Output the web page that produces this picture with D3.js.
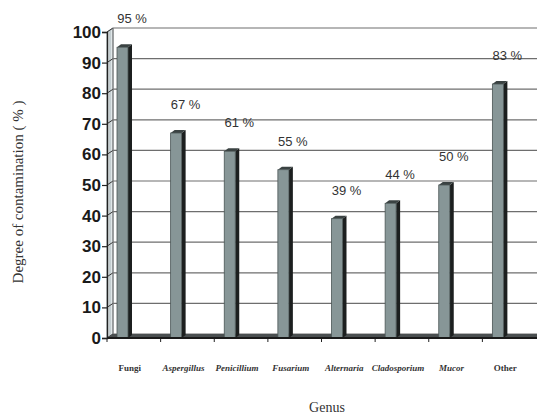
<!DOCTYPE html>
<html>
<head>
<meta charset="utf-8">
<script src="https://cdn.jsdelivr.net/npm/d3@7"></script>
<style>
  html, body { margin: 0; padding: 0; background: #fff; }
  svg { display: block; }
</style>
</head>
<body>
<svg id="chart" width="537" height="415"></svg>
<script>
// Contamination by genus
const categories = ["Fungi", "Aspergillus", "Penicillium", "Fusarium", "Alternaria", "Cladosporium", "Mucor", "Other"];
const contamination = [95, 67, 61, 55, 39, 44, 50, 83];
const italicLabel = [false, true, true, true, true, true, true, false];
const yTicks = [0, 10, 20, 30, 40, 50, 60, 70, 80, 90, 100];
const yTitle = "Degree of contamination ( % )";
const xTitle = "Genus";

const W = 537, H = 415;
const svg = d3.select("#chart");

const plotLeft = 107, plotRight = 536, plotBottom = 338, plotTop = 32;
const wallDx = 6, wallDy = -4;     // depth of the back wall
const barDx = 4, barDy = -3;       // depth of each bar
const barFront = 11;

const x = d3.scaleBand().domain(categories).range([plotLeft, plotRight]);
const y = d3.scaleLinear().domain([0, 100]).range([plotBottom, plotTop]);

// side wall on the left
svg.append("polygon")
  .attr("points", [[plotLeft, y(0)], [plotLeft + wallDx, y(0) + wallDy], [plotLeft + wallDx, y(100) + wallDy], [plotLeft, y(100)]].map(p => p.join(",")).join(" "))
  .attr("fill", "#dfe6e8").attr("stroke", "#8a979b").attr("stroke-width", 1);
svg.append("line")
  .attr("x1", plotLeft + 3).attr("x2", plotLeft + 3)
  .attr("y1", y(100) - 2).attr("y2", y(0) - 2)
  .attr("stroke", "#aab6ba").attr("stroke-width", 1);

// back wall gridlines
const grid = svg.append("g");
grid.selectAll("line.grid").data(yTicks).join("line")
  .attr("class", "grid")
  .attr("x1", plotLeft + wallDx).attr("x2", W)
  .attr("y1", d => y(d) + wallDy).attr("y2", d => y(d) + wallDy)
  .attr("stroke", "#6e6e6e").attr("stroke-width", 1.2);
grid.selectAll("line.diag").data(yTicks).join("line")
  .attr("class", "diag")
  .attr("x1", plotLeft).attr("x2", plotLeft + wallDx)
  .attr("y1", d => y(d)).attr("y2", d => y(d) + wallDy)
  .attr("stroke", "#333").attr("stroke-width", 1);
grid.append("line")
  .attr("x1", plotLeft + wallDx).attr("x2", plotLeft + wallDx)
  .attr("y1", y(100) + wallDy).attr("y2", y(0) + wallDy)
  .attr("stroke", "#777").attr("stroke-width", 1);

// floor
svg.append("polygon")
  .attr("points", [[plotLeft, y(0)], [plotLeft + wallDx, y(0) + wallDy], [W, y(0) + wallDy], [W, y(0)]].map(p => p.join(",")).join(" "))
  .attr("fill", "#4a4f50");

// bars
const bars = svg.append("g").selectAll("g").data(categories).join("g");
bars.each(function (c, i) {
  const g = d3.select(this);
  const x0 = x(c) + 10;
  const yt = y(contamination[i]);
  const yb = y(0);
  // right side
  g.append("polygon")
    .attr("points", [[x0 + barFront, yt], [x0 + barFront + barDx, yt + barDy], [x0 + barFront + barDx, yb + barDy], [x0 + barFront, yb]].map(p => p.join(",")).join(" "))
    .attr("fill", "#1c1f1f");
  // top
  g.append("polygon")
    .attr("points", [[x0, yt], [x0 + barDx, yt + barDy], [x0 + barFront + barDx, yt + barDy], [x0 + barFront, yt]].map(p => p.join(",")).join(" "))
    .attr("fill", "#3a4242");
  // front
  g.append("rect")
    .attr("x", x0).attr("y", yt)
    .attr("width", barFront).attr("height", yb - yt)
    .attr("fill", "#879697").attr("stroke", "#4b5656").attr("stroke-width", 0.8);
});

// value labels
svg.append("g").selectAll("text").data(categories).join("text")
  .attr("x", c => x(c) + 10 + 15)
  .attr("y", (c, i) => y(contamination[i]) - 24)
  .attr("text-anchor", "middle")
  .attr("font-family", "Liberation Sans, Arial, sans-serif")
  .attr("font-size", 13)
  .attr("fill", "#333")
  .text((c, i) => contamination[i] + " %");

// y axis
const yAxis = d3.axisLeft(y).tickValues(yTicks).tickSize(5).tickPadding(1);
const ga = svg.append("g").attr("transform", `translate(${plotLeft},0)`).call(yAxis);
ga.select(".domain").attr("stroke", "#222").attr("stroke-width", 1.4);
ga.selectAll(".tick line").attr("stroke", "#222").attr("stroke-width", 1.2);
ga.selectAll(".tick text")
  .attr("font-family", "Liberation Sans, Arial, sans-serif")
  .attr("font-weight", "bold")
  .attr("font-size", 17)
  .attr("fill", "#1a1a1a");

// x axis ticks at category boundaries
svg.append("g").selectAll("line").data(categories).join("line")
  .attr("x1", c => x(c)).attr("x2", c => x(c))
  .attr("y1", plotBottom).attr("y2", plotBottom + 4)
  .attr("stroke", "#222").attr("stroke-width", 1);
svg.append("line")
  .attr("x1", plotLeft).attr("x2", W)
  .attr("y1", plotBottom).attr("y2", plotBottom)
  .attr("stroke", "#1a1a1a").attr("stroke-width", 1.8);

// category labels
svg.append("g").selectAll("text").data(categories).join("text")
  .attr("x", c => x(c) + x.bandwidth() / 2 - 4)
  .attr("y", 371)
  .attr("text-anchor", "middle")
  .attr("font-family", "Liberation Serif, Times New Roman, serif")
  .attr("font-size", 9)
  .attr("font-weight", "bold")
  .attr("font-style", (c, i) => italicLabel[i] ? "italic" : "normal")
  .attr("fill", "#333")
  .text(c => c);

// axis titles
svg.append("text")
  .attr("transform", "translate(23,192) rotate(-90)")
  .attr("text-anchor", "middle")
  .attr("font-family", "Liberation Serif, Times New Roman, serif")
  .attr("font-size", 15)
  .attr("fill", "#333")
  .text(yTitle);

svg.append("text")
  .attr("x", 327).attr("y", 412)
  .attr("text-anchor", "middle")
  .attr("font-family", "Liberation Serif, Times New Roman, serif")
  .attr("font-size", 14)
  .attr("fill", "#333")
  .text(xTitle);
</script>
</body>
</html>
